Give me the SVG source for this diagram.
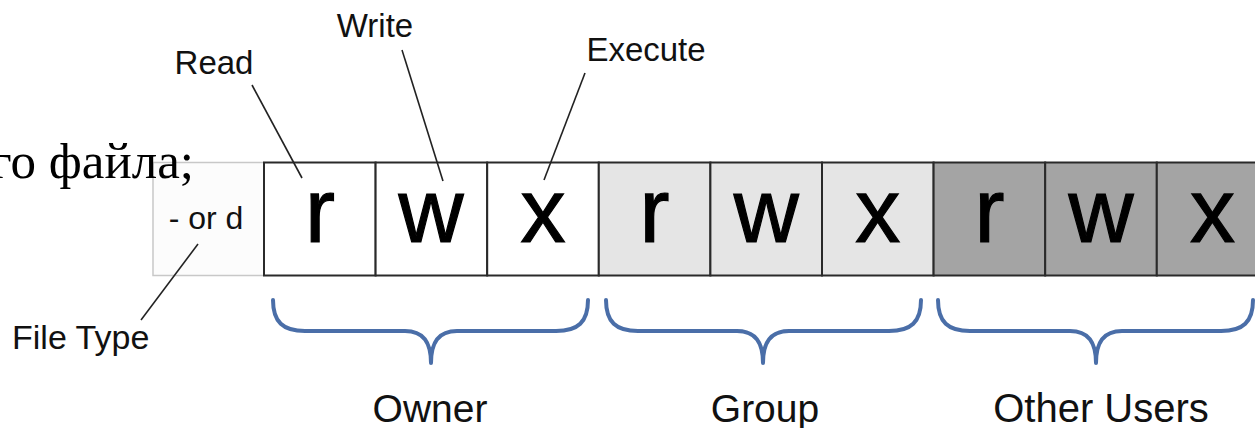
<svg xmlns="http://www.w3.org/2000/svg" width="1255" height="428" viewBox="0 0 1255 428">
<style>
.lbl{font-family:"Liberation Sans",Arial,sans-serif;fill:#111;}
.big{font-family:"Liberation Sans",Arial,sans-serif;font-size:90px;fill:#000;stroke:#000;stroke-width:1.2;text-anchor:middle;}
.cell{stroke:#2a2a2a;stroke-width:2;}
.own{fill:#ffffff;}
.grp{fill:#e5e5e5;}
.oth{fill:#a4a4a4;}
.lead{stroke:#222;stroke-width:1.6;fill:none;}
.brace{stroke:#4a6ea8;stroke-width:4;fill:none;stroke-linecap:round;stroke-linejoin:round;}
.mid{text-anchor:middle;}
</style>
<rect width="1255" height="428" fill="#ffffff"/>

<g id="filetype">
<rect x="153" y="162.5" width="111" height="113" fill="#fcfcfc" stroke="#c8c8c8" stroke-width="1.5"/>
<text class="lbl" x="206" y="229" font-size="32" text-anchor="middle">- or d</text>
</g>

<text x="194" y="178" font-family="Liberation Serif,'Times New Roman',serif" font-size="51" text-anchor="end" fill="#000">го файла;</text>

<g id="owner-r"><rect class="cell own" x="264" y="162.5" width="111.6" height="113"/><text class="big" x="320" y="242">r</text></g>
<g id="owner-w"><rect class="cell own" x="375.6" y="162.5" width="111.6" height="113"/><text class="big" x="431" y="242">w</text></g>
<g id="owner-x"><rect class="cell own" x="487.2" y="162.5" width="111.6" height="113"/><text class="big" x="543" y="242">x</text></g>
<g id="group-r"><rect class="cell grp" x="598.8" y="162.5" width="111.6" height="113"/><text class="big" x="654.6" y="242">r</text></g>
<g id="group-w"><rect class="cell grp" x="710.4" y="162.5" width="111.6" height="113"/><text class="big" x="766.2" y="242">w</text></g>
<g id="group-x"><rect class="cell grp" x="822" y="162.5" width="111.6" height="113"/><text class="big" x="877.8" y="242">x</text></g>
<g id="other-r"><rect class="cell oth" x="933.6" y="162.5" width="111.6" height="113"/><text class="big" x="989.4" y="242">r</text></g>
<g id="other-w"><rect class="cell oth" x="1045.2" y="162.5" width="111.6" height="113"/><text class="big" x="1101" y="242">w</text></g>
<g id="other-x"><rect class="cell oth" x="1156.8" y="162.5" width="111.6" height="113"/><text class="big" x="1212.6" y="242">x</text></g>

<g id="label-read"><text class="lbl mid" x="214" y="74" font-size="33">Read</text></g>
<g id="label-write"><text class="lbl mid" x="375" y="37" font-size="33">Write</text></g>
<g id="label-execute"><text class="lbl mid" x="646" y="61" font-size="33">Execute</text></g>
<g id="label-filetype"><text class="lbl" x="12" y="349" font-size="34">File Type</text></g>

<g id="connectors">
<line class="lead" x1="252" y1="85" x2="302" y2="178"/>
<line class="lead" x1="402" y1="50" x2="443" y2="181"/>
<line class="lead" x1="585" y1="73" x2="544" y2="180"/>
<line class="lead" x1="198" y1="244" x2="141" y2="320"/>
</g>

<g id="brace-owner">
<path class="brace" d="M273,300 C273,322 283,331 305,331 L405,331 C424,331 431,343 431,363 C431,343 438,331 457,331 L556,331 C578,331 588,322 588,300"/>
<text class="lbl mid" x="430" y="422" font-size="39">Owner</text>
</g>
<g id="brace-group">
<path class="brace" d="M606,300 C606,322 616,331 638,331 L737,331 C756,331 763,343 763,363 C763,343 770,331 789,331 L889,331 C911,331 921,322 921,300"/>
<text class="lbl mid" x="765" y="422" font-size="39">Group</text>
</g>
<g id="brace-other">
<path class="brace" d="M938,300 C938,322 948,331 970,331 L1070,331 C1089,331 1096,343 1096,363 C1096,343 1103,331 1122,331 L1221,331 C1243,331 1253,322 1253,300"/>
<text class="lbl mid" x="1101" y="422" font-size="40">Other Users</text>
</g>
</svg>
